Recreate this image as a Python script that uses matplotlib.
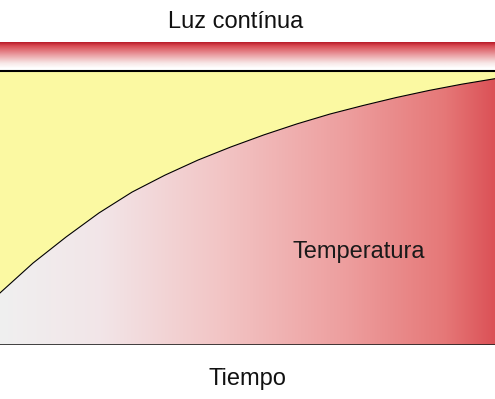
import numpy as np
import matplotlib
matplotlib.use("Agg")
import matplotlib.pyplot as plt
from matplotlib.colors import LinearSegmentedColormap

# Data
tiempo = [0, 1, 2, 3, 4, 5, 6, 7, 8, 9, 10, 11, 12, 13, 14, 15]
temperatura = [19.0, 29.9, 39.4, 48.2, 55.8, 62.0, 67.5, 72.3, 76.7, 80.7,
               84.3, 87.4, 90.3, 92.9, 95.2, 97.2]
titulo = "Luz contínua"
eje_x = "Tiempo"
etiqueta = "Temperatura"

plt.rcParams['font.family'] = ['Liberation Sans', 'DejaVu Sans']

W, H = 495, 399
fig = plt.figure(figsize=(W / 100, H / 100), dpi=100)
fig.patch.set_facecolor('white')
bottom_px, top_px = 345, 42
ax = fig.add_axes([0, (H - bottom_px) / H, 1, (bottom_px - top_px) / H])
ymax = (bottom_px - top_px) / 274 * 100
ax.set_xlim(tiempo[0], tiempo[-1])
ax.set_ylim(0, ymax)
ax.axis('off')

t = np.array(tiempo, dtype=float)
T = np.array(temperatura, dtype=float)

# Yellow region above curve
ax.fill_between(t, T, 100, color='#FBF9A2', lw=0, zorder=1)

# Horizontal gradient below curve
cmap_h = LinearSegmentedColormap.from_list('h', [
    (0.0, (0.94, 0.94, 0.94)),
    (0.2, (0.95, 0.90, 0.91)),
    (0.45, (0.95, 0.77, 0.77)),
    (0.7, (0.93, 0.62, 0.62)),
    (0.9, (0.90, 0.47, 0.47)),
    (1.0, (0.86, 0.32, 0.34)),
])
grad = np.linspace(0, 1, 256).reshape(1, -1)
poly = ax.fill_between(t, 0, T, color='none', lw=0)
im = ax.imshow(grad, cmap=cmap_h, aspect='auto', extent=[t[0], t[-1], 0, 100],
               interpolation='bilinear', zorder=2)
path = poly.get_paths()[0]
im.set_clip_path(path, transform=ax.transData)

ax.plot(t, T, color='black', lw=0.8, zorder=3)

# Top band: vertical gradient
cmap_v = LinearSegmentedColormap.from_list('v', [
    (0.0, (1.0, 1.0, 1.0)),
    (0.2, (0.97, 0.90, 0.90)),
    (0.55, (0.91, 0.58, 0.60)),
    (0.85, (0.85, 0.30, 0.33)),
    (1.0, (0.72, 0.10, 0.15)),
])
vgrad = np.linspace(0, 1, 256).reshape(-1, 1)
band_bottom = (bottom_px - 68) / 274 * 100
ax.imshow(vgrad, cmap=cmap_v, aspect='auto', origin='lower',
          extent=[t[0], t[-1], band_bottom, ymax], interpolation='bilinear', zorder=2)

ax.axhline(100, color='black', lw=1.5, zorder=4)
ax.axhline(0, color='#222222', lw=1.2, zorder=4)

# Texts
fig.text(236 / W, 1 - 28 / H, titulo, ha='center', va='baseline', fontsize=17, color='#111111')
fig.text(247 / W, 1 - 385 / H, eje_x, ha='center', va='baseline', fontsize=17, color='#111111')
ax.text(359 / W * (t[-1] - t[0]), (bottom_px - 258) / 274 * 100, etiqueta,
        ha='center', va='baseline', fontsize=17, color='#1a1a1a', zorder=5)

fig.savefig('out.png', dpi=100)
